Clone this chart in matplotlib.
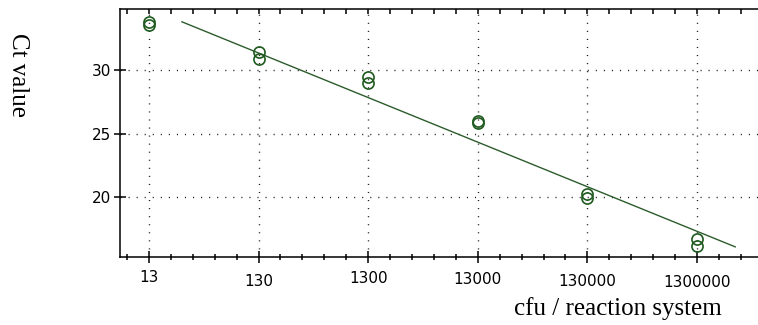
"""Standard curve: Ct value vs. cfu per reaction system (log scale)."""

import matplotlib

matplotlib.use("Agg")
import matplotlib.pyplot as plt
import numpy as np
from matplotlib.transforms import ScaledTranslation

# Data
cfu = [13, 13, 130, 130, 1300, 1300, 13000, 13000,
       130000, 130000, 1300000, 1300000]
ct_values = [33.6, 33.8, 31.45, 30.9, 29.5, 28.95, 25.97, 25.8,
             20.25, 19.95, 16.7, 16.1]
decade_ticks = [13, 130, 1300, 13000, 130000, 1300000]
decade_labels = ["13", "130", "1300", "13000", "130000", "1300000"]
label_drop_px = [0, 4, 0.7, 2, 4, 4.7]  # labels in the original sit at uneven heights
fit_range = [26, 2.9e6]

GREEN = "#1f5a1f"
LINE_GREEN = "#2c5c2c"

fig = plt.figure(figsize=(7.58, 3.25), dpi=100)
ax = fig.add_axes([0.1583, 0.209, 0.8417, 0.762])

ax.set_xscale("log")
ax.set_xlim(10 ** 0.85, 10 ** 6.67)
ax.set_ylim(15.26, 34.79)

# regression line (least squares on log10 cfu)
slope, intercept = np.polyfit(np.log10(cfu), ct_values, 1)
fit_x = np.array(fit_range)
ax.plot(fit_x, slope * np.log10(fit_x) + intercept, color=LINE_GREEN, lw=1.0,
        zorder=3)

ax.plot(cfu, ct_values, linestyle="none", marker="o", ms=8, mfc="none",
        mec=GREEN, mew=1.2, zorder=4)

# grid
for y in [20, 25, 30]:
    ax.axhline(y, color="#222222", lw=1.0, ls=(0, (0.8, 5)), zorder=1)
for x in decade_ticks:
    ax.axvline(x, color="#222222", lw=1.0, ls=(0, (0.8, 5)), zorder=1)

# ticks
log_minor = [np.log10(d) + s for d in [1.3] + decade_ticks
             for s in (-0.8, -0.6, -0.4, -0.2, 0.2, 0.4, 0.6, 0.8)]
minor_pos = sorted({round(10 ** v, 3) for v in log_minor
                    if 0.85 < v < 6.67}
                   - set(float(d) for d in decade_ticks))
ax.set_xticks(decade_ticks)
ax.set_xticklabels(decade_labels)
ax.set_xticks(minor_pos, minor=True)
ax.set_yticks([20, 25, 30])
ax.set_yticks(range(16, 35), minor=True)

ax.tick_params(which="major", direction="inout", length=9, width=1.1,
               labelsize=11, color="black")
ax.tick_params(which="minor", direction="inout", length=5, width=1.1)
ax.tick_params(axis="x", which="major", pad=5)
ax.tick_params(axis="y", which="major", pad=2)

for lab in ax.get_xticklabels():
    lab.set_fontfamily("DejaVu Sans")
for lab, dy in zip(ax.get_xticklabels(), label_drop_px):
    lab.set_transform(lab.get_transform()
                      + ScaledTranslation(0, -dy / 100, fig.dpi_scale_trans))

for side in ["left", "bottom", "top"]:
    ax.spines[side].set_linewidth(1.1)
ax.spines["right"].set_visible(False)

# top axis: small inward ticks only
top = ax.twiny()
top.set_xscale("log")
top.set_xlim(ax.get_xlim())
top.set_xticks(sorted(list(minor_pos) + decade_ticks))
top.set_xticklabels([])
top.minorticks_off()
top.tick_params(direction="in", length=3.5, width=1.1)
for side in top.spines:
    top.spines[side].set_visible(False)

fig.text(17.5 / 758, 1 - 75 / 325, "Ct value", rotation=270,
         ha="center", va="center", fontsize=18, family="Liberation Serif")
fig.text(617.5 / 758, 1 - 309 / 325, "cfu / reaction system",
         ha="center", va="center", fontsize=18, family="Liberation Serif")

fig.savefig("out.png", dpi=100)
